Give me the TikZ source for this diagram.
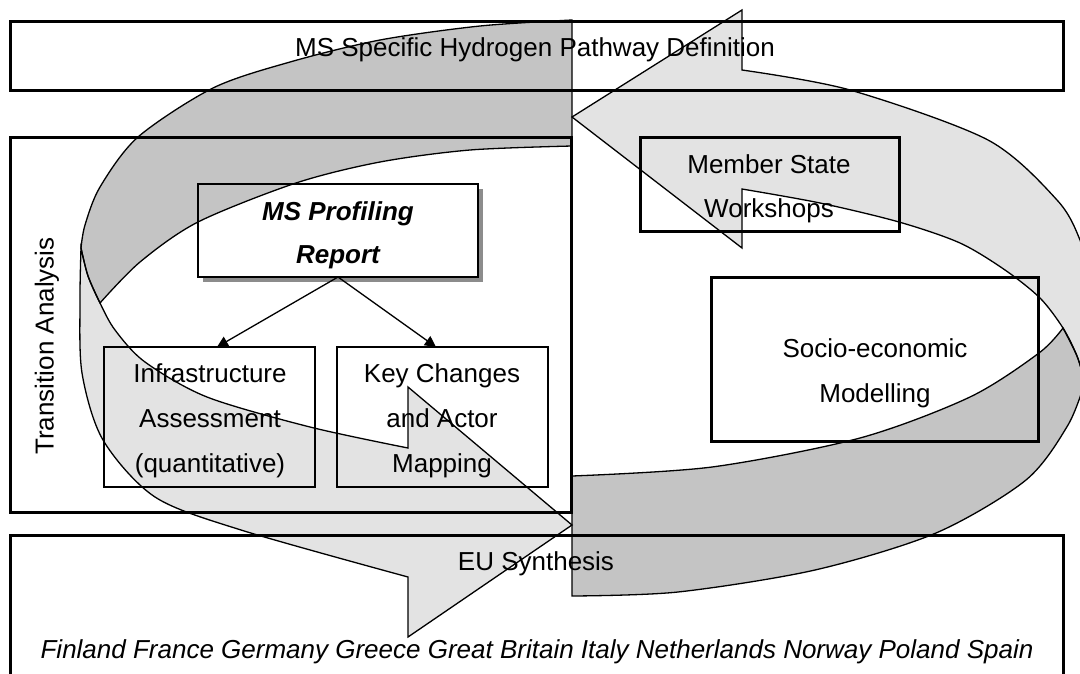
\documentclass[tikz,border=0pt]{standalone}
\usepackage{fontspec}
\setmainfont{Liberation Sans}
\usetikzlibrary{arrows.meta,calc}
\begin{document}
\begin{tikzpicture}[x=1pt,y=-1pt,
  box/.style={draw=black, anchor=north west, inner sep=0pt, outer sep=0pt},
  thickbox/.style={box, line width=3pt},
  thinbox/.style={box, line width=1.5pt},
  lbl/.style={font=\fontsize{26}{30}\selectfont, anchor=base, inner sep=0pt, text=black},
  band/.style={draw=black, line width=1.3pt, line join=miter, miter limit=10},
  lightband/.style={band, fill=black, fill opacity=0.11},
  darkband/.style={band, fill=black, fill opacity=0.23},
  conn/.style={line width=1.3pt, -{Triangle[length=11pt,width=11pt]}}]

\useasboundingbox (0,0) rectangle (1080,673);
\fill[white] (0,0) rectangle (1080,673);
\clip (0,0) rectangle (1080,673);

% boxes
\node[thickbox, minimum width=1053pt, minimum height=69pt] (top) at (10,21) {};
\node[thickbox, minimum width=561pt, minimum height=375pt] (trans) at (10,137) {};
\node[thickbox, minimum width=1053pt, minimum height=150pt] (eu) at (10,535) {};
\node[thickbox, minimum width=259pt, minimum height=94pt] (member) at (640,137) {};
\node[thickbox, minimum width=327pt, minimum height=164pt] (socio) at (711,277) {};
\node[box, draw=none, fill=black!45, minimum width=280pt, minimum height=93pt] (profshadow) at (203,189) {};
\node[thinbox, fill=white, minimum width=280pt, minimum height=93pt] (prof) at (198,184) {};
\node[thinbox, minimum width=211pt, minimum height=140pt] (infra) at (104,347) {};
\node[thinbox, minimum width=211pt, minimum height=140pt] (key) at (337,347) {};

% texts
\node[lbl] (ttop) at (535,56) {MS Specific Hydrogen Pathway Definition};
\node[lbl, rotate=90, anchor=center] (ttrans) at (47,346) {Transition Analysis};
\node[lbl, font=\fontsize{26}{30}\selectfont\bfseries\itshape] (tprofa) at (338,220) {MS Profiling};
\node[lbl, font=\fontsize{26}{30}\selectfont\bfseries\itshape] (tprofb) at (338,263) {Report};
\node[lbl] (tinfa) at (210,382) {Infrastructure};
\node[lbl] (tinfb) at (210,427) {Assessment};
\node[lbl] (tinfc) at (210,472) {(quantitative)};
\node[lbl] (tkeya) at (442,382) {Key Changes};
\node[lbl] (tkeyb) at (442,427) {and Actor};
\node[lbl] (tkeyc) at (442,472) {Mapping};
\node[lbl] (tmema) at (769,173) {Member State};
\node[lbl] (tmemb) at (769,217) {Workshops};
\node[lbl] (tsoca) at (875,357) {Socio-economic};
\node[lbl] (tsocb) at (875,402) {Modelling};
\node[lbl] (teu) at (536,570) {EU Synthesis};
\node[lbl, font=\fontsize{26}{30}\selectfont\itshape] (tcty) at (537,658) {Finland France Germany Greece Great Britain Italy Netherlands Norway Poland Spain};

% connectors
\draw[conn] (prof.south) -- ($(infra.north west)+(113,0)$);
\draw[conn] (prof.south) -- ($(key.north west)+(99,0)$);

% circular arrow A (right, pointing left at the top)
\path[lightband] plot[smooth] coordinates {(1085,382) (1095,330) (1092,285) (1080,240) (1057,200) (988,140) (850,90) (742,70)}
  -- (742,10) -- (572,117) -- (742,248) -- (742,189)
  -- plot[smooth] coordinates {(742,189) (820,203) (899,222) (960,243) (1005,270) (1040,298) (1063,328) (1077,356) (1085,382)} -- cycle;
\path[darkband] (572,476)
  -- plot[smooth] coordinates {(572,476) (712,467) (860,438) (970,397) (1039,353) (1063,328)}
  -- plot[smooth] coordinates {(1063,328) (1077,356) (1085,382)}
  -- plot[smooth] coordinates {(1085,382) (1068,425) (1026,480) (936,533) (815,570) (678,592) (572,596)} -- cycle;

% circular arrow B (left, pointing right at the bottom)
\path[lightband] plot[smooth] coordinates {(81,248) (80,300) (82,373) (103,440) (155,497) (241,530) (408,577)}
  -- (408,637) -- (572,525) -- (408,387) -- (408,448)
  -- plot[smooth] coordinates {(408,448) (310,427) (207,397) (145,362) (115,330) (100,303) (88,276) (81,248)} -- cycle;
\path[darkband] (572,20)
  -- plot[smooth] coordinates {(572,20) (480,26) (380,40) (290,62) (213,88) (138,137) (100,187) (85,225) (81,248)}
  -- plot[smooth] coordinates {(81,248) (88,276) (100,303)}
  -- plot[smooth] coordinates {(100,303) (140,262) (198,222) (296,183) (380,162) (470,150) (572,146)} -- cycle;
\end{tikzpicture}
\end{document}
